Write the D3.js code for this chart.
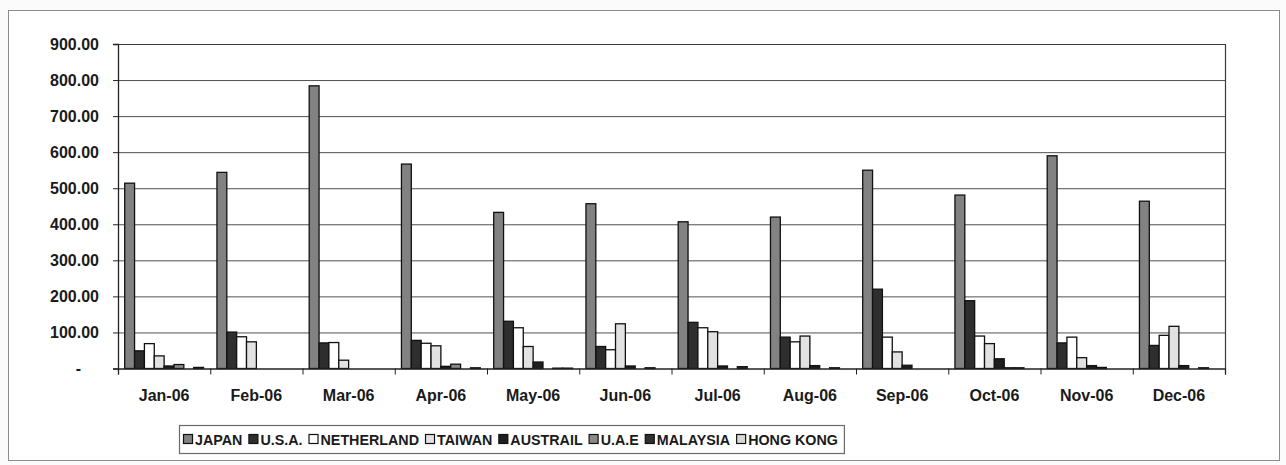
<!DOCTYPE html>
<html>
<head>
<meta charset="utf-8">
<script src="https://cdn.jsdelivr.net/npm/d3@7"></script>
<style>
  html, body { margin: 0; padding: 0; background: #fbfbfb; }
  svg { display: block; }
  text { font-family: "Liberation Sans", Arial, sans-serif; fill: #1a1a1a; }
</style>
</head>
<body>
<svg id="chart" width="1286" height="465"></svg>
<script>
const categories = ["Jan-06","Feb-06","Mar-06","Apr-06","May-06","Jun-06","Jul-06","Aug-06","Sep-06","Oct-06","Nov-06","Dec-06"];
const seriesNames = ["JAPAN","U.S.A.","NETHERLAND","TAIWAN","AUSTRAIL","U.A.E","MALAYSIA","HONG KONG"];
const japan      = [514, 544, 784, 567, 433, 457, 407, 420, 550, 481, 590, 464];
const usa        = [49, 101, 71, 78, 131, 61, 128, 87, 220, 188, 71, 64];
const netherland = [69, 88, 72, 70, 113, 52, 113, 74, 87, 90, 87, 92];
const taiwan     = [35, 74, 23, 63, 61, 124, 102, 90, 46, 69, 30, 117];
const austrail   = [7, 0, 0, 6, 18, 7, 7, 8, 9, 27, 8, 8];
const uae        = [11, 0, 0, 12, 0, 0, 0, 0, 0, 2, 3, 0];
const malaysia   = [0, 0, 0, 0, 1, 2, 5, 2, 0, 2, 0, 2];
const hongkong   = [3, 0, 0, 2, 1, 0, 0, 0, 0, 0, 0, 0];
const yTicks     = [0, 100, 200, 300, 400, 500, 600, 700, 800, 900];

const seriesValues = [japan, usa, netherland, taiwan, austrail, uae, malaysia, hongkong];
const seriesColors = ["#828282", "#2e2e2e", "#ffffff", "#e2e2e2", "#1e1e1e", "#8a8a8a", "#303030", "#d8d8d8"];

const svg = d3.select("#chart");

// outer chart frame
svg.append("rect").attr("x", 8.5).attr("y", 10.5).attr("width", 1271).attr("height", 450)
  .attr("fill", "#ffffff").attr("stroke", "#8c8c8c").attr("stroke-width", 1);

const pLeft = 118, pRight = 1225, pTop = 44, pBottom = 368.5;

const x = d3.scaleBand().domain(categories).range([pLeft, pRight]).paddingInner(0).paddingOuter(0);
const xs = d3.scaleBand().domain(seriesNames).range([0, x.bandwidth()]).paddingInner(0).paddingOuter(0.68);
const y = d3.scaleLinear().domain([0, 900]).range([pBottom, pTop]);

// gridlines
const grid = svg.append("g").attr("transform", `translate(${pLeft},0)`)
  .call(d3.axisLeft(y).tickValues(yTicks.filter(d => d > 0)).tickSize(-(pRight - pLeft)).tickFormat(""));
grid.select(".domain").remove();
grid.selectAll("line").attr("stroke", "#505050").attr("stroke-width", 1);

// plot area border (top + right)
svg.append("path")
  .attr("d", `M${pLeft},${pTop + 0.5}H${pRight + 0.5}V${pBottom}`)
  .attr("fill", "none").attr("stroke", "#3a3a3a").attr("stroke-width", 1.2);

// bars
const groups = svg.append("g").selectAll("g").data(categories).join("g")
  .attr("transform", d => `translate(${x(d)},0)`);
groups.selectAll("rect")
  .data((c, ci) => seriesNames.map((s, si) => ({ s, v: seriesValues[si][ci], color: seriesColors[si] })).filter(d => d.v > 0))
  .join("rect")
  .attr("x", d => xs(d.s))
  .attr("y", d => y(d.v))
  .attr("width", xs.bandwidth())
  .attr("height", d => y(0) - y(d.v))
  .attr("fill", d => d.color)
  .attr("stroke", "#111")
  .attr("stroke-width", 1.3);

// y axis
const yAxis = svg.append("g").attr("transform", `translate(${pLeft},0)`)
  .call(d3.axisLeft(y).tickValues(yTicks).tickSize(5).tickPadding(14)
    .tickFormat(d => d === 0 ? "-" : d3.format(".2f")(d)));
yAxis.select(".domain").attr("stroke", "#222").attr("stroke-width", 1.3);
yAxis.selectAll(".tick line").attr("stroke", "#222");
yAxis.selectAll(".tick text").attr("font-size", 16).attr("font-weight", "bold").attr("fill", "#222")
  .style("font-family", "'Liberation Sans', Arial, sans-serif");
yAxis.selectAll(".tick").filter(d => d === 0).select("text").attr("x", -37);

// x axis: boundary ticks
const xEdge = d3.scaleLinear().domain([0, categories.length]).range([pLeft, pRight]);
const xAxisTicks = svg.append("g").attr("transform", `translate(0,${pBottom})`)
  .call(d3.axisBottom(xEdge).tickValues(d3.range(categories.length + 1)).tickSize(6).tickFormat(""));
xAxisTicks.select(".domain").attr("stroke", "#222").attr("stroke-width", 1.3);
xAxisTicks.selectAll(".tick line").attr("stroke", "#222");

// x axis labels
const xAxis = svg.append("g").attr("transform", `translate(0,${pBottom})`)
  .call(d3.axisBottom(x).tickSize(0).tickPadding(21));
xAxis.select(".domain").remove();
xAxis.selectAll(".tick text").attr("font-size", 16).attr("font-weight", "bold").attr("fill", "#222")
  .style("font-family", "'Liberation Sans', Arial, sans-serif");

// legend
const legend = svg.append("g");
const legBox = legend.append("rect").attr("fill", "#ffffff").attr("stroke", "#6a6a6a").attr("stroke-width", 1.2);
let lx = 183;
const ly = 439;
seriesNames.forEach((s, i) => {
  legend.append("rect").attr("x", lx + 0.5).attr("y", ly - 4.5).attr("width", 9).attr("height", 9)
    .attr("fill", seriesColors[i]).attr("stroke", "#111").attr("stroke-width", 1.2);
  const t = legend.append("text").attr("x", lx + 12).attr("y", ly + 5.5)
    .attr("font-size", 14.3).attr("font-weight", "bold").attr("fill", "#222").text(s);
  lx += 12 + t.node().getComputedTextLength() + 6;
});
legBox.attr("x", 179.5).attr("y", 425.5).attr("width", lx - 179).attr("height", 28);
</script>
</body>
</html>
